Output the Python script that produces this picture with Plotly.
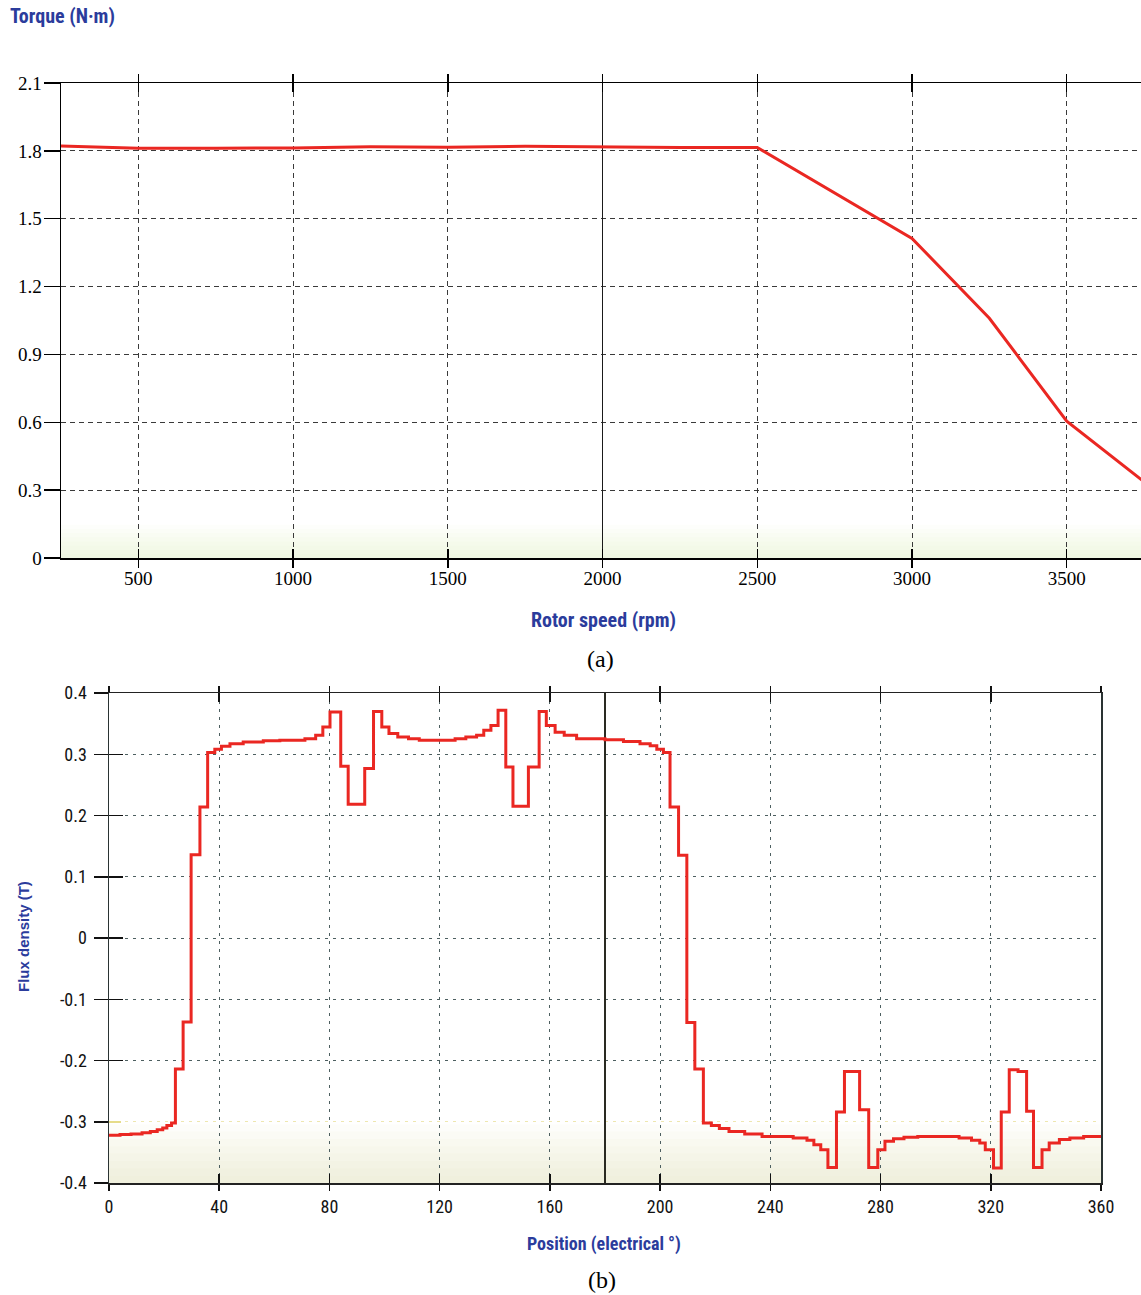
import plotly.graph_objects as go

# ---------------- data: (a) torque vs rotor speed ----------------
speed_rpm = [250, 500, 750, 1000, 1250, 1500, 1750, 2000, 2250, 2500, 2750, 3000, 3250, 3500, 3750]
torque_nm = [1.822, 1.812, 1.812, 1.813, 1.818, 1.816, 1.820, 1.816, 1.815, 1.815, 1.615, 1.413, 1.060, 0.605, 0.337]
speed_ticks = [500, 1000, 1500, 2000, 2500, 3000, 3500]
speed_ticktext = ["500", "1000", "1500", "2000", "2500", "3000", "3500"]
torque_ticks = [0, 0.3, 0.6, 0.9, 1.2, 1.5, 1.8, 2.1]
torque_ticktext = ["0", "0.3", "0.6", "0.9", "1.2", "1.5", "1.8", "2.1"]
speed_ref = [2000]

# ---------------- data: (b) air-gap flux density vs position ----------------
position_deg = [0, 4, 8, 12, 15, 17.5, 19.5, 21, 22.7, 24.1, 26.9, 29.8, 33.0, 35.8, 38.4, 40.8,
                43.9, 48.7, 56, 62, 71.1, 75, 77.6, 80.2, 84.1, 86.8, 92.8, 96, 99, 101.6, 104.8,
                108.7, 112.6, 125.6, 129.5, 133.4, 136, 138.6, 141.2, 144, 146.6, 152.2, 156.1,
                158.7, 161.9, 165.2, 169.7, 180, 186.7, 192.7, 196.4, 198.8, 201.2, 203.6, 206.7,
                209.7, 212.6, 215.7, 218.6, 221.5, 225, 230.7, 237, 248.3, 253.3, 255.8, 258.3,
                260.9, 264, 266.9, 272.4, 275.7, 279, 281.6, 284.7, 288.5, 293.5, 308.5, 313, 316,
                318, 321, 323.8, 326.7, 329.9, 333, 335.5, 338.6, 341.2, 344.9, 348.7, 353.7, 360]
flux_t = [-0.322, -0.321, -0.320, -0.318, -0.316, -0.313, -0.310, -0.306, -0.302, -0.214, -0.137,
          0.136, 0.214, 0.303, 0.308, 0.313, 0.317, 0.320, 0.322, 0.323, 0.3255, 0.331, 0.3445,
          0.369, 0.2805, 0.2185, 0.2766, 0.370, 0.3445, 0.334, 0.328, 0.3255, 0.323, 0.3255,
          0.328, 0.331, 0.339, 0.347, 0.3717, 0.279, 0.215, 0.279, 0.370, 0.347, 0.336, 0.331,
          0.3255, 0.3235, 0.321, 0.317, 0.3137, 0.308, 0.303, 0.214, 0.135, -0.138, -0.214,
          -0.302, -0.306, -0.311, -0.316, -0.320, -0.324, -0.3266, -0.330, -0.3375, -0.3457,
          -0.3745, -0.2842, -0.218, -0.2804, -0.3745, -0.3457, -0.332, -0.3277, -0.3255, -0.324,
          -0.3266, -0.3304, -0.3348, -0.3457, -0.3755, -0.2842, -0.2152, -0.218, -0.283, -0.3745,
          -0.3457, -0.3348, -0.329, -0.3266, -0.324, -0.324]
position_ticks = [0, 40, 80, 120, 160, 200, 240, 280, 320, 360]
position_ticktext = ["0", "40", "80", "120", "160", "200", "240", "280", "320", "360"]
flux_ticks = [-0.4, -0.3, -0.2, -0.1, 0, 0.1, 0.2, 0.3, 0.4]
flux_ticktext = ["-0.4", "-0.3", "-0.2", "-0.1", "0", "0.1", "0.2", "0.3", "0.4"]
flux_grid = [-0.2, -0.1, 0, 0.1, 0.2, 0.3]
flux_faint_grid = [-0.3]
position_ref = [180]

# ---------------- styling ----------------
W, H = 1141, 1295          # page body margin is removed below, figure fills the window
RED = "#ea2722"
BLUE = "#2b3c9c"
SERIF = "Liberation Serif, Times New Roman, serif"
NARROW = "Liberation Sans Narrow, Arial Narrow, Roboto Condensed, Liberation Sans, sans-serif"
SANS = "Liberation Sans, Arial, sans-serif"
GRID_A = "#3a3a3a"
GRID_B = "#4d5f60"
DASH_A = "5px,4px"
DASH_B = "3px,5px"


def fx(p):
    """page x pixel -> paper fraction"""
    return p / W


def fy(p):
    """page y pixel -> paper fraction"""
    return 1 - p / H


xa_dom = [fx(61), 1.0]
ya_dom = [fy(558), fy(83)]
xb_dom = [fx(109), fx(1101)]
yb_dom = [fy(1183), fy(693)]
xa_range = [250, 3740]
ya_range = [0, 2.1]
xb_range = [0, 360]
yb_range = [-0.4, 0.4]

fig = go.Figure()


def empty(xa, ya):
    fig.add_trace(go.Scatter(x=[], y=[], xaxis=xa, yaxis=ya, mode="lines",
                             hoverinfo="skip", showlegend=False))


# (a)
empty("x", "y")
empty("x3", "y")
fig.add_trace(go.Scatter(x=speed_rpm, y=torque_nm, xaxis="x5", yaxis="y", mode="lines",
                         line=dict(color=RED, width=3), hoverinfo="skip", showlegend=False))
# (b)
empty("x2", "y2")
empty("x2", "y3")
empty("x4", "y2")
fig.add_trace(go.Scatter(x=position_deg, y=flux_t, xaxis="x6", yaxis="y2", mode="lines",
                         line=dict(color=RED, width=3, shape="hv"), hoverinfo="skip",
                         showlegend=False))

common_off = dict(showticklabels=False, zeroline=False, showline=False, fixedrange=True,
                  automargin=False)

fig.update_layout(
    template="none",
    width=W, height=H, margin=dict(l=0, r=0, t=0, b=0, pad=0, autoexpand=False),
    paper_bgcolor="white", plot_bgcolor="white", hovermode=False, dragmode=False,
    showlegend=False,
    # ---- (a)
    xaxis=dict(domain=xa_dom, range=xa_range, anchor="y", tickmode="array",
               tickvals=speed_ticks, ticktext=speed_ticktext, ticks="outside", ticklen=8,
               tickwidth=1.5, tickcolor="black", showline=True, linecolor="black",
               linewidth=1.5, mirror="ticks", showgrid=True, gridcolor=GRID_A, gridwidth=1,
               griddash=DASH_A, zeroline=False, fixedrange=True, ticklabelstandoff=-5,
               automargin=False,
               tickfont=dict(family=SERIF, size=19, color="black")),
    xaxis3=dict(overlaying="x", anchor="y", range=xa_range, tickmode="array",
                tickvals=speed_ticks, ticks="inside", ticklen=9, tickwidth=1.5,
                tickcolor="black", mirror="ticks", showgrid=False, **common_off),
    xaxis5=dict(overlaying="x", anchor="y", range=xa_range, tickmode="array",
                tickvals=speed_ref, ticks="", showgrid=True, gridcolor="#1a1a1a",
                gridwidth=1.3, griddash="solid", **common_off),
    yaxis=dict(domain=ya_dom, range=ya_range, anchor="x", tickmode="array",
               tickvals=torque_ticks, ticktext=torque_ticktext, ticks="outside", ticklen=16,
               tickwidth=1.5, tickcolor="black", showline=True, linecolor="black",
               linewidth=1.5, showgrid=True, gridcolor=GRID_A, gridwidth=1, griddash=DASH_A,
               zeroline=False, fixedrange=True, automargin=False, ticklabelstandoff=-2,
               tickfont=dict(family=SERIF, size=19, color="black")),
    # ---- (b)
    xaxis2=dict(domain=xb_dom, range=xb_range, anchor="y2", tickmode="array",
                tickvals=position_ticks, ticktext=position_ticktext, ticks="outside",
                ticklen=6, tickwidth=1.5, tickcolor="#111", showline=True, linecolor="#222",
                linewidth=1.5, mirror="ticks", showgrid=True, gridcolor=GRID_B, gridwidth=1,
                griddash=DASH_B, zeroline=False, fixedrange=True, ticklabelstandoff=1,
                automargin=False,
                tickfont=dict(family=NARROW, size=18, color="#111")),
    xaxis4=dict(overlaying="x2", anchor="y2", range=xb_range, tickmode="array",
                tickvals=position_ticks, ticks="inside", ticklen=9, tickwidth=1.5,
                tickcolor="#111", mirror="ticks", showgrid=False, **common_off),
    xaxis6=dict(overlaying="x2", anchor="y2", range=xb_range, tickmode="array",
                tickvals=position_ref, ticks="", showgrid=True, gridcolor="#2a2a22",
                gridwidth=1.3, griddash="solid", **common_off),
    yaxis2=dict(domain=yb_dom, range=yb_range, anchor="x2", tickmode="array",
                tickvals=flux_ticks, ticktext=flux_ticktext, ticks="outside", ticklen=14,
                tickwidth=1.5, tickcolor="#111", showline=True, linecolor="#2a3333",
                linewidth=1.5, mirror=True, showgrid=False, zeroline=False, fixedrange=True,
                ticklabelstandoff=3, automargin=False,
                tickfont=dict(family=NARROW, size=18, color="#111")),
    yaxis3=dict(overlaying="y2", anchor="x2", range=yb_range, tickmode="array",
                tickvals=flux_grid, ticks="inside", ticklen=14, tickwidth=1.5,
                tickcolor="#111", showgrid=True, gridcolor=GRID_B, gridwidth=1,
                griddash=DASH_B,
                minor=dict(tickmode="array", tickvals=flux_faint_grid, ticks="inside",
                           ticklen=12, tickwidth=1.5, tickcolor="#e6dc8a", showgrid=True,
                           gridcolor="#eee7b0", gridwidth=1, griddash=DASH_B),
                **common_off),
)

# faint gradient tint at the bottom of each plotting area
for k in range(1, 9):
    fig.add_shape(type="rect", xref="x domain", yref="y domain", x0=0, x1=1, y0=0,
                  y1=0.07 * k / 8, fillcolor="#dfe6bd", opacity=0.06, line_width=0,
                  layer="below")
    fig.add_shape(type="rect", xref="x2 domain", yref="y2 domain", x0=0, x1=1, y0=0,
                  y1=0.12 * k / 8, fillcolor="#dfe6bd", opacity=0.07, line_width=0,
                  layer="below")

annotations = [
    dict(text="<b>Torque (N·m)</b>", x=fx(8), y=fy(16), xanchor="left", yanchor="middle",
         font=dict(family=NARROW, size=20, color=BLUE)),
    dict(text="<b>Rotor speed (rpm)</b>", x=fx(603), y=fy(620), xanchor="center",
         yanchor="middle", font=dict(family=NARROW, size=20, color=BLUE)),
    dict(text="(a)", x=fx(600), y=fy(659), xanchor="center", yanchor="middle",
         font=dict(family=SERIF, size=24, color="black")),
    dict(text="<b>Flux density (T)</b>", x=fx(24), y=fy(937), xanchor="center",
         yanchor="middle", textangle=-90, font=dict(family=SANS, size=15, color=BLUE)),
    dict(text="<b>Position (electrical °)</b>", x=fx(604), y=fy(1244), xanchor="center",
         yanchor="middle", font=dict(family=NARROW, size=18, color=BLUE)),
    dict(text="(b)", x=fx(602), y=fy(1280), xanchor="center", yanchor="middle",
         font=dict(family=SERIF, size=24, color="black")),
]
for a in annotations:
    a.update(xref="paper", yref="paper", showarrow=False)
fig.update_layout(annotations=annotations)

fig.write_html("out.html", config={"displayModeBar": False, "staticPlot": True},
               post_script="document.body.style.margin='0';"
                           "document.body.style.overflow='hidden';")
